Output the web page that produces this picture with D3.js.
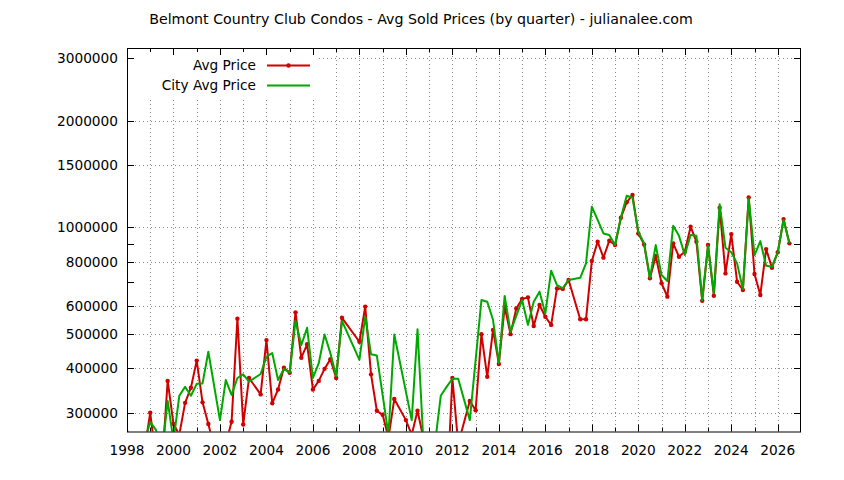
<!DOCTYPE html>
<html><head><meta charset="utf-8">
<script src="https://cdn.jsdelivr.net/npm/d3@7"></script>
<style>body{margin:0;background:#fff}svg{display:block}text{font-family:"DejaVu Sans",sans-serif;fill:#000}</style>
</head><body><svg id="c" width="844" height="480"></svg>
<script>
const title = "Belmont Country Club Condos - Avg Sold Prices (by quarter) - julianalee.com";
const seriesNames = ["Avg Price", "City Avg Price"];
const yTickValues = [300000, 400000, 500000, 600000, 800000, 1000000, 1500000, 2000000, 3000000];
const yMinorTicks = [700000, 900000];
const xTickYears = d3.range(1998, 2027, 2);
const xGridYears = d3.range(1999, 2027, 1);

const avgQuarters = [1998.75,1999,1999.25,1999.5,1999.75,2000,2000.25,2000.5,2000.75,2001,2001.25,2001.5,2001.75,2002,2002.25,2002.5,2002.75,2003,2003.25,2003.75,2004,2004.25,2004.5,2004.75,2005,2005.25,2005.5,2005.75,2006,2006.25,2006.5,2006.75,2007,2007.25,2008,2008.25,2008.5,2008.75,2009,2009.25,2009.5,2010,2010.25,2010.5,2010.75,2011,2011.25,2011.5,2011.75,2012,2012.25,2012.75,2013,2013.25,2013.5,2013.75,2014,2014.25,2014.5,2014.75,2015,2015.25,2015.5,2015.75,2016,2016.25,2016.5,2016.75,2017,2017.5,2017.75,2018,2018.25,2018.5,2018.75,2019,2019.25,2019.5,2019.75,2020,2020.25,2020.5,2020.75,2021,2021.25,2021.5,2021.75,2022,2022.25,2022.5,2022.75,2023,2023.25,2023.5,2023.75,2024,2024.25,2024.5,2024.75,2025,2025.25,2025.5,2025.75,2026,2026.25,2026.5];
const avgPrice = [235000,300000,220000,210000,369000,279000,260000,320000,353000,421000,321000,279000,240000,230000,245000,283000,553000,278000,376000,338000,481000,319000,349000,402000,389000,576000,429000,468000,349000,369000,399000,425000,376000,556000,476000,598000,385000,304000,296000,255000,328000,286000,260000,304000,255000,230000,220000,210000,170000,376000,245000,324000,305000,500000,379000,514000,412000,598000,500000,591000,628000,635000,527000,604000,560000,531000,673000,671000,711000,551000,551000,804000,912000,822000,917000,892000,1065000,1178000,1235000,962000,896000,719000,831000,696000,638000,902000,827000,854000,1005000,912000,621000,892000,642000,1137000,742000,958000,703000,666000,1216000,739000,645000,869000,770000,851000,1056000,902000];

const cityQuarters = [1998,1998.25,1998.5,1998.75,1999,1999.25,1999.5,1999.75,2000,2000.25,2000.5,2000.75,2001,2001.25,2001.5,2002,2002.25,2002.5,2002.75,2003,2003.25,2003.75,2004,2004.25,2004.5,2004.75,2005,2005.25,2005.5,2005.75,2006,2006.25,2006.5,2006.75,2007,2007.25,2008,2008.25,2008.5,2008.75,2009.25,2009.5,2010.25,2010.5,2010.75,2011,2011.25,2011.5,2011.75,2012,2012.25,2012.75,2013.25,2013.5,2013.75,2014,2014.25,2014.5,2014.75,2015,2015.25,2015.5,2015.75,2016,2016.25,2016.5,2016.75,2017,2017.5,2017.75,2018,2018.25,2018.5,2018.75,2019,2019.25,2019.5,2019.75,2020,2020.25,2020.5,2020.75,2021,2021.25,2021.5,2021.75,2022,2022.25,2022.5,2022.75,2023,2023.25,2023.5,2023.75,2024,2024.25,2024.5,2024.75,2025,2025.25,2025.5,2025.75,2026,2026.25,2026.5];
const cityPrice = [268000,250000,240000,248000,283000,268000,230000,324000,250000,335000,355000,335000,362000,363000,446000,286000,371000,337000,376000,385000,367000,386000,432000,442000,371000,399000,389000,545000,466000,521000,376000,414000,499000,442000,381000,545000,423000,560000,439000,435000,260000,499000,286000,516000,250000,240000,245000,335000,355000,374000,374000,286000,624000,617000,548000,414000,641000,508000,563000,624000,531000,617000,659000,572000,755000,688000,673000,711000,721000,792000,1144000,1050000,962000,952000,892000,1065000,1229000,1213000,973000,902000,721000,892000,734000,706000,1011000,947000,836000,952000,947000,624000,888000,652000,1162000,877000,851000,792000,669000,1208000,836000,915000,780000,775000,851000,1050000,902000];

const W = 844, H = 480;
const L = 127, R = 801, T = 48, B = 431.5;
const red = "#d00000", green = "#00a800";
const svg = d3.select("#c");
svg.append("rect").attr("width", W).attr("height", H).attr("fill", "#fff");

const x = d3.scaleLinear().domain([1998, 2027]).range([L, R]);
const y = d3.scaleLog().domain([265600, 3210000]).range([B, T]);

// grid
const grid = svg.append("g").attr("stroke", "#888").attr("stroke-width", 1).attr("stroke-dasharray", "1,3");
grid.selectAll("line.v").data(xGridYears).join("line")
  .attr("x1", d => Math.round(x(d)) + 0.5).attr("x2", d => Math.round(x(d)) + 0.5)
  .attr("y1", T).attr("y2", B);
grid.selectAll("line.h").data(yTickValues).join("line")
  .attr("y1", d => Math.round(y(d)) + 0.5).attr("y2", d => Math.round(y(d)) + 0.5)
  .attr("x1", L).attr("x2", R);

// legend background
svg.append("rect").attr("x", L + 1).attr("y", T + 1).attr("width", 189).attr("height", 48).attr("fill", "#fff");

// clip
svg.append("clipPath").attr("id", "clip").append("rect").attr("x", L).attr("y", T).attr("width", R - L).attr("height", B - T);
const plot = svg.append("g").attr("clip-path", "url(#clip)");

const avgData = avgQuarters.map((t, i) => [t, avgPrice[i]]);
const cityData = cityQuarters.map((t, i) => [t, cityPrice[i]]);
const line = d3.line().x(d => x(d[0])).y(d => y(d[1]));

plot.append("path").datum(avgData).attr("d", line).attr("fill", "none").attr("stroke", red).attr("stroke-width", 2).attr("stroke-linejoin", "round");
plot.selectAll("circle.a").data(avgData).join("circle").attr("cx", d => x(d[0])).attr("cy", d => y(d[1])).attr("r", 2.2).attr("fill", red);
plot.append("path").datum(cityData).attr("d", line).attr("fill", "none").attr("stroke", green).attr("stroke-width", 2).attr("stroke-linejoin", "round");

// border
svg.append("rect").attr("x", L + 0.5).attr("y", T + 0.5).attr("width", R - L - 1).attr("height", B - T).attr("fill", "none").attr("stroke", "#000").attr("stroke-width", 1);

// ticks
const tk = svg.append("g").attr("stroke", "#000").attr("stroke-width", 1);
const maj = 7, mnr = 4;
d3.range(1998, 2027).forEach(yr => {
  const xx = Math.round(x(yr)) + 0.5;
  const len = yr % 2 === 0 ? maj : mnr;
  tk.append("line").attr("x1", xx).attr("x2", xx).attr("y1", B).attr("y2", B - len);
  tk.append("line").attr("x1", xx).attr("x2", xx).attr("y1", T).attr("y2", T + len);
});
yTickValues.concat(yMinorTicks).forEach(v => {
  const yy = Math.round(y(v)) + 0.5;
  tk.append("line").attr("x1", L).attr("x2", L + maj).attr("y1", yy).attr("y2", yy);
  tk.append("line").attr("x1", R - maj).attr("x2", R).attr("y1", yy).attr("y2", yy);
});

// labels
const fs = "13.7px";
svg.append("g").selectAll("text").data(yTickValues).join("text")
  .attr("x", 118).attr("y", d => y(d)).attr("dy", "0.36em").attr("text-anchor", "end")
  .style("font-size", fs).text(d => d3.format("d")(d));
svg.append("g").selectAll("text").data(xTickYears).join("text")
  .attr("x", d => x(d)).attr("y", 455).attr("text-anchor", "middle")
  .style("font-size", fs).text(d => d);
svg.append("text").attr("x", 421).attr("y", 24).attr("text-anchor", "middle").style("font-size", "14.2px").text(title);

// legend
const lg = svg.append("g");
[0, 1].forEach(i => {
  const yy = 65.5 + i * 20;
  lg.append("text").attr("x", 256).attr("y", yy).attr("dy", "0.36em").attr("text-anchor", "end").style("font-size", fs).text(seriesNames[i]);
  lg.append("line").attr("x1", 267).attr("x2", 310).attr("y1", yy).attr("y2", yy).attr("stroke", i === 0 ? red : green).attr("stroke-width", 2);
  if (i === 0) lg.append("circle").attr("cx", 288.5).attr("cy", yy).attr("r", 2.2).attr("fill", red);
});
</script></body></html>
